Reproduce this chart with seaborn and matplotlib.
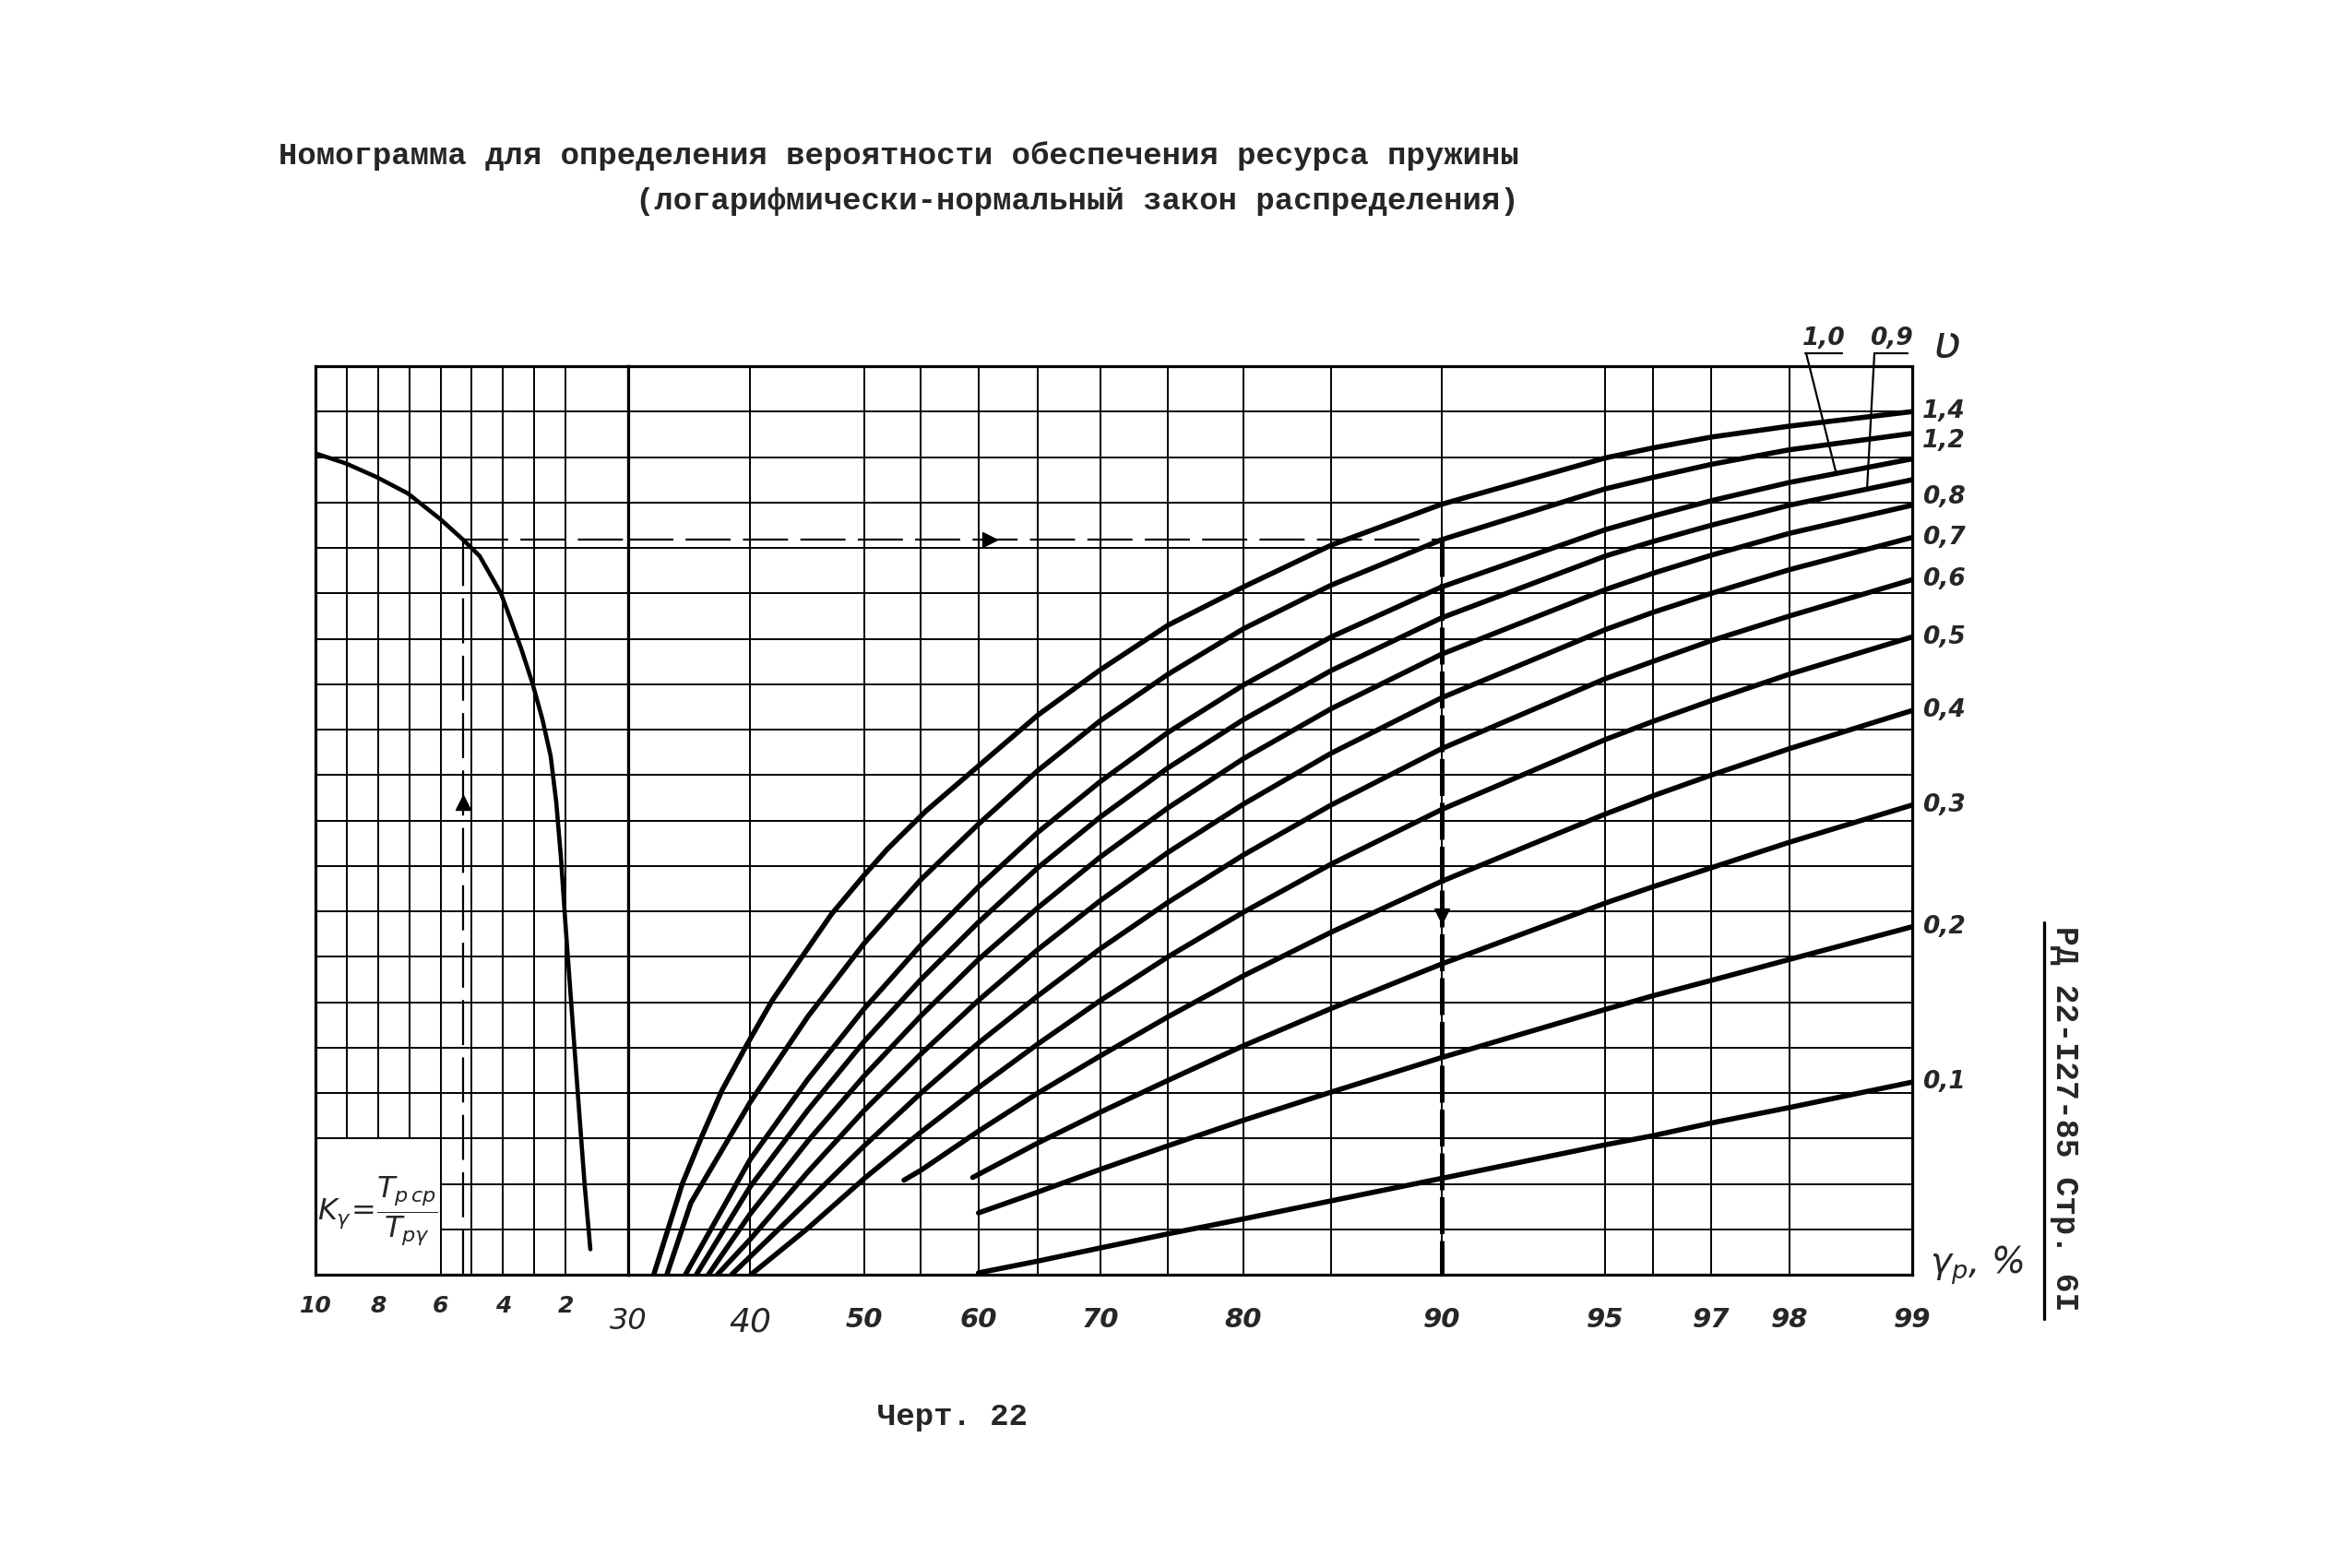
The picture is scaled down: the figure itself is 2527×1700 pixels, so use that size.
import math
import numpy as np
import pandas as pd
import matplotlib
matplotlib.use("Agg")
import matplotlib.pyplot as plt
import seaborn as sns
from matplotlib.lines import Line2D
from matplotlib.patches import Rectangle

# ---------------------------------------------------------------- data
title_1 = "Номограмма для определения вероятности обеспечения ресурса пружины"
title_2 = "(логарифмически-нормальный закон распределения)"
caption = "Черт. 22"
side_text = "РД 22-I27-85 Стр. 6I"

# left scale: K_gamma = T_p.sr / T_p.gamma
K_major = [10, 8, 6, 4, 2]
K_minor = [9, 7, 5, 3]
K_curve_K = [10.0, 9.03, 8.05, 7.05, 6.02, 5.28, 4.75, 4.07, 3.78, 3.42, 3.07, 2.74, 2.48,
             2.30, 2.15, 2.01, 1.86, 1.71, 1.56, 1.39, 1.21]
K_curve_u = [0.096, 0.107, 0.122, 0.140, 0.168, 0.191, 0.209, 0.250, 0.277, 0.311, 0.348, 0.389, 0.429,
             0.480, 0.541, 0.612, 0.683, 0.754, 0.824, 0.902, 0.972]

# right scale: probability gamma_p, %
gamma_major = [30, 40, 50, 60, 70, 80, 90, 95, 97, 98, 99]
gamma_minor = [55, 65, 75, 85, 96]

# curves for the coefficient of variation v  (y = T_p.gamma / T_p.sr)
g_14 = [32.0, 34.3, 35.9, 37.6, 39.7, 41.9, 44.5, 47.1, 50, 52, 55.4, 60, 65, 70, 75, 80, 85, 90, 95, 96, 97, 98, 99]
u_14 = [1.0, 0.900, 0.848, 0.797, 0.747, 0.698, 0.650, 0.603, 0.560, 0.532, 0.490, 0.440, 0.384, 0.334, 0.285, 0.243, 0.197, 0.152, 0.101, 0.090, 0.078, 0.066, 0.050]
g_12 = [33.05, 35, 40, 45, 50, 55, 60, 65, 70, 75, 80, 85, 90, 95, 96, 97, 98, 99]
u_12 = [1.0, 0.921, 0.810, 0.716, 0.635, 0.565, 0.504, 0.445, 0.390, 0.339, 0.289, 0.241, 0.191, 0.135, 0.1225, 0.108, 0.092, 0.074]
g_10 = [34.55, 40, 45, 50, 55, 60, 65, 70, 75, 80, 85, 90, 95, 96, 97, 98, 99]
u_10 = [1.0, 0.873, 0.785, 0.707, 0.637, 0.573, 0.513, 0.457, 0.403, 0.351, 0.298, 0.243, 0.180, 0.165, 0.148, 0.128, 0.102]
g_09 = [35.45, 40, 45, 50, 55, 60, 65, 70, 75, 80, 85, 90, 95, 96, 97, 98, 99]
u_09 = [1.0, 0.903, 0.819, 0.743, 0.675, 0.612, 0.552, 0.496, 0.442, 0.389, 0.335, 0.277, 0.209, 0.193, 0.175, 0.153, 0.125]
g_08 = [36.45, 40, 45, 50, 55, 60, 65, 70, 75, 80, 85, 90, 95, 96, 97, 98, 99]
u_08 = [1.0, 0.933, 0.853, 0.781, 0.715, 0.653, 0.596, 0.540, 0.486, 0.432, 0.377, 0.317, 0.246, 0.228, 0.208, 0.184, 0.153]
g_07 = [37.2, 40, 45, 50, 55, 60, 65, 70, 75, 80, 85, 90, 95, 96, 97, 98, 99]
u_07 = [1.0, 0.961, 0.887, 0.819, 0.757, 0.698, 0.642, 0.588, 0.535, 0.482, 0.426, 0.365, 0.290, 0.271, 0.250, 0.224, 0.1885]
g_06 = [38.4, 45, 50, 55, 60, 65, 70, 75, 80, 85, 90, 95, 96, 97, 98, 99]
u_06 = [1.0, 0.919, 0.858, 0.800, 0.745, 0.693, 0.641, 0.590, 0.538, 0.483, 0.421, 0.344, 0.325, 0.302, 0.275, 0.235]
g_05 = [40.05, 45, 50, 55, 60, 65, 70, 75, 80, 85, 90, 95, 96, 97, 98, 99]
u_05 = [1.0, 0.949, 0.894, 0.843, 0.794, 0.746, 0.698, 0.650, 0.601, 0.548, 0.488, 0.411, 0.391, 0.368, 0.339, 0.298]
g_04 = [53.5, 55, 60, 65, 70, 75, 80, 85, 90, 95, 96, 97, 98, 99]
u_04 = [0.896, 0.885, 0.842, 0.800, 0.759, 0.716, 0.671, 0.623, 0.567, 0.493, 0.473, 0.450, 0.421, 0.379]
g_03 = [59.5, 65, 70, 75, 80, 85, 90, 95, 96, 97, 98, 99]
u_03 = [0.893, 0.855, 0.821, 0.786, 0.748, 0.707, 0.658, 0.591, 0.573, 0.552, 0.524, 0.483]
g_02 = [60, 65, 70, 75, 80, 85, 90, 95, 96, 97, 98, 99]
u_02 = [0.932, 0.909, 0.884, 0.858, 0.830, 0.799, 0.761, 0.708, 0.693, 0.676, 0.653, 0.617]
g_01 = [60, 65, 70, 75, 80, 85, 90, 95, 96, 97, 98, 99]
u_01 = [0.998, 0.985, 0.9705, 0.955, 0.9386, 0.9187, 0.894, 0.857, 0.847, 0.833, 0.816, 0.788]

v_labels = ["1,4", "1,2", "1,0", "0,9", "0,8", "0,7", "0,6", "0,5", "0,4", "0,3", "0,2", "0,1"]
v_gammas = [g_14, g_12, g_10, g_09, g_08, g_07, g_06, g_05, g_04, g_03, g_02, g_01]
v_us = [u_14, u_12, u_10, u_09, u_08, u_07, u_06, u_05, u_04, u_03, u_02, u_01]

# worked example (dashed key line)
ex_K = 5.28
ex_u = 0.191
ex_gamma = 90
arrow_up_u = 0.48
arrow_right_gamma = 61
arrow_down_u = 0.605
leader_10_end = (98.45, 0.117)
leader_09_end = (98.7, 0.134)

# ---------------------------------------------------------------- helpers
def probit(p):
    p = np.asarray(p, dtype=float)
    shape = p.shape
    p = np.atleast_1d(p) / 100.0
    p = np.clip(np.nan_to_num(p, nan=0.5), 1e-9, 1 - 1e-9)
    a = [-3.969683028665376e+01, 2.209460984245205e+02, -2.759285104469687e+02,
         1.383577518672690e+02, -3.066479806614716e+01, 2.506628277459239e+00]
    b = [-5.447609879822406e+01, 1.615858368580409e+02, -1.556989798598866e+02,
         6.680131188771972e+01, -1.328068155288572e+01]
    c = [-7.784894002430293e-03, -3.223964580411365e-01, -2.400758277161838e+00,
         -2.549732539343734e+00, 4.374664141464968e+00, 2.938163982698783e+00]
    d = [7.784695709041462e-03, 3.224671290700398e-01, 2.445134137142996e+00,
         3.754408661907416e+00]
    plow = 0.02425
    z = np.empty_like(p)
    lo = p < plow
    hi = p > 1 - plow
    mid = ~(lo | hi)
    q = np.sqrt(-2 * np.log(p[lo]))
    z[lo] = (((((c[0]*q+c[1])*q+c[2])*q+c[3])*q+c[4])*q+c[5]) / ((((d[0]*q+d[1])*q+d[2])*q+d[3])*q+1)
    q = p[mid] - 0.5
    r = q * q
    z[mid] = (((((a[0]*r+a[1])*r+a[2])*r+a[3])*r+a[4])*r+a[5])*q / (((((b[0]*r+b[1])*r+b[2])*r+b[3])*r+b[4])*r+1)
    q = np.sqrt(-2 * np.log(1 - p[hi]))
    z[hi] = -(((((c[0]*q+c[1])*q+c[2])*q+c[3])*q+c[4])*q+c[5]) / ((((d[0]*q+d[1])*q+d[2])*q+d[3])*q+1)
    return z.reshape(shape)

_erf = np.vectorize(math.erf)

def norm_cdf_pct(z):
    z = np.asarray(z, dtype=float)
    return 100.0 * 0.5 * (1.0 + _erf(z / math.sqrt(2.0)))

W, H = 2527, 1700
def F(px, py):
    return (px / W, 1 - py / H)

# ---------------------------------------------------------------- style
sns.set_style("white")
plt.rcParams['font.family'] = ['DejaVu Sans']
plt.rcParams['mathtext.fontset'] = 'dejavusans'

fig = plt.figure(figsize=(W / 100, H / 100), dpi=100)
fig.patch.set_facecolor("white")

x_left, x_mid, x_right = 342, 681, 2073
y_top, y_bot = 397, 1382
ax_l = fig.add_axes([x_left / W, 1 - y_bot / H, (x_mid - x_left) / W, (y_bot - y_top) / H])
ax_r = fig.add_axes([x_mid / W, 1 - y_bot / H, (x_right - x_mid) / W, (y_bot - y_top) / H])

grid_lw = 1.4
curve_lw = 4.0
u_grid = np.round(np.arange(0.05, 0.951, 0.05), 3)

# ---------------------------------------------------------------- right part
ax_r.set_xscale('function', functions=(probit, norm_cdf_pct))

rows = []
for lab, gs, us in zip(v_labels, v_gammas, v_us):
    for g, u in zip(gs, us):
        rows.append({"v": lab, "gamma": g, "u": u})
df = pd.DataFrame(rows)
sns.lineplot(data=df, x="gamma", y="u", hue="v", palette=["black"] * len(v_labels),
             estimator=None, sort=False, legend=False, linewidth=curve_lw,
             ax=ax_r, zorder=3)
for ln in ax_r.lines:
    ln.set_solid_capstyle('round')
    ln.set_solid_joinstyle('round')

ax_r.set_xlim(30, 99)
ax_r.set_ylim(1, 0)
ax_r.set_xticks(gamma_major)
ax_r.set_xticks(gamma_minor, minor=True)
ax_r.set_xticklabels([str(g) for g in gamma_major])
ax_r.set_yticks(u_grid)
ax_r.set_yticklabels([])
ax_r.set_xlabel("")
ax_r.set_ylabel("")
ax_r.set_axisbelow(True)
ax_r.grid(True, which='both', color='black', linewidth=grid_lw)
ax_r.tick_params(axis='both', which='both', length=0)
ax_r.tick_params(axis='x', pad=25)
for lab in ax_r.get_xticklabels():
    lab.set_fontstyle('italic')
    lab.set_fontweight('bold')
    lab.set_fontsize(21)
    if lab.get_text() == '30':
        lab.set_fontweight('normal'); lab.set_fontsize(23)
    if lab.get_text() == '40':
        lab.set_fontweight('normal'); lab.set_fontsize(26)

# ---------------------------------------------------------------- left part
sns.lineplot(x=K_curve_K, y=K_curve_u, sort=False, estimator=None, color='black',
             linewidth=3.3, ax=ax_l, zorder=3)
for ln in ax_l.lines:
    ln.set_solid_capstyle('round')
    ln.set_solid_joinstyle('round')
ax_l.set_xlim(10, 0)
ax_l.set_ylim(1, 0)
ax_l.set_xticks(K_major)
ax_l.set_xticks(K_minor, minor=True)
ax_l.set_xticklabels([str(k) for k in K_major])
ax_l.set_yticks(u_grid)
ax_l.set_yticklabels([])
ax_l.set_axisbelow(True)
ax_l.grid(True, which='both', color='black', linewidth=grid_lw)
ax_l.tick_params(axis='both', which='both', length=0)
ax_l.tick_params(axis='x', pad=16)
for lab in ax_l.get_xticklabels():
    lab.set_fontstyle('italic')
    lab.set_fontweight('bold')
    lab.set_fontsize(18)

for ax in (ax_l, ax_r):
    for sp in ax.spines.values():
        sp.set_visible(True)
        sp.set_color('black')
        sp.set_linewidth(2.3)

# formula box
ax_l.add_patch(Rectangle((6, 0.85), 4, 0.15, facecolor='white', edgecolor='black',
                         linewidth=grid_lw, zorder=2))
ax_l.text(8.0, 0.93, r"$K_{\gamma}\!=\!\dfrac{T_{р\,ср}}{T_{р\gamma}}$", ha='center', va='center',
          fontsize=23, zorder=4)

# ---------------------------------------------------------------- worked example
dash_thin = dict(color='black', linewidth=1.6, dashes=(22, 6), zorder=4)
ax_l.plot([ex_K, ex_K], [1.0, ex_u], **dash_thin)
ax_l.plot([ex_K, 0], [ex_u, ex_u], **dash_thin)
ax_r.plot([30, ex_gamma], [ex_u, ex_u], **dash_thin)
ax_r.plot([ex_gamma, ex_gamma], [ex_u, 1.0], color='black', linewidth=3.6,
          dashes=(8, 1.5), zorder=4)
ax_l.plot([ex_K], [arrow_up_u], marker='^', markersize=11, color='black', zorder=5)
ax_r.plot([arrow_right_gamma], [ex_u], marker='>', markersize=12, color='black', zorder=5)
ax_r.plot([ex_gamma], [arrow_down_u], marker='v', markersize=12, color='black', zorder=5)

# ---------------------------------------------------------------- v labels
lab_font = dict(fontstyle='italic', fontweight='bold', fontsize=19)
label_dy = {"1,2": -6, "0,8": 6}
for lab, gs, us in zip(v_labels, v_gammas, v_us):
    if lab in ("1,0", "0,9"):
        continue
    ax_r.annotate(lab, xy=(gs[-1], us[-1]), xytext=(8, label_dy.get(lab, 0)),
                  textcoords='offset points', ha='left', va='center',
                  annotation_clip=False, **lab_font)

# top labels with leaders
fig.text(*F(1977, 367), "1,0", ha='center', va='center', **lab_font)
fig.text(*F(2050, 367), "0,9", ha='center', va='center', **lab_font)
fig.add_artist(Line2D([1957 / W, 1997 / W], [1 - 383 / H] * 2, color='black', lw=1.6))
fig.add_artist(Line2D([2032 / W, 2068 / W], [1 - 383 / H] * 2, color='black', lw=1.6))
ax_r.annotate("", xy=leader_10_end, xytext=F(1958, 383), textcoords='figure fraction',
              arrowprops=dict(arrowstyle='-', color='black', lw=1.6, shrinkA=0, shrinkB=0),
              annotation_clip=False)
ax_r.annotate("", xy=leader_09_end, xytext=F(2032, 383), textcoords='figure fraction',
              arrowprops=dict(arrowstyle='-', color='black', lw=1.6, shrinkA=0, shrinkB=0),
              annotation_clip=False)
fig.text(*F(2110, 374), "ʋ", ha='center', va='center', fontsize=36, fontstyle='italic')
fig.text(*F(2143, 1372), r"$\gamma_p$, %", ha='center', va='center', fontsize=28,
         fontstyle='italic')

# ---------------------------------------------------------------- typewriter texts
tw = dict(family=['Liberation Mono', 'DejaVu Sans Mono'], fontweight='bold')
fig.text(*F(1647, 169), title_1, ha='right', va='center', fontsize=24.5, **tw)
fig.text(*F(1647, 219), title_2, ha='right', va='center', fontsize=24.5, **tw)
fig.text(*F(951, 1536), caption, ha='left', va='center', fontsize=24.5, **tw)
fig.text(*F(2238, 1213), side_text, rotation=-90, ha='center', va='center', fontsize=25, **tw)
fig.add_artist(Line2D([2216 / W] * 2, [1 - 1000 / H, 1 - 1430 / H], color='black', lw=2.4))

fig.savefig("out.png", dpi=100, facecolor='white')
